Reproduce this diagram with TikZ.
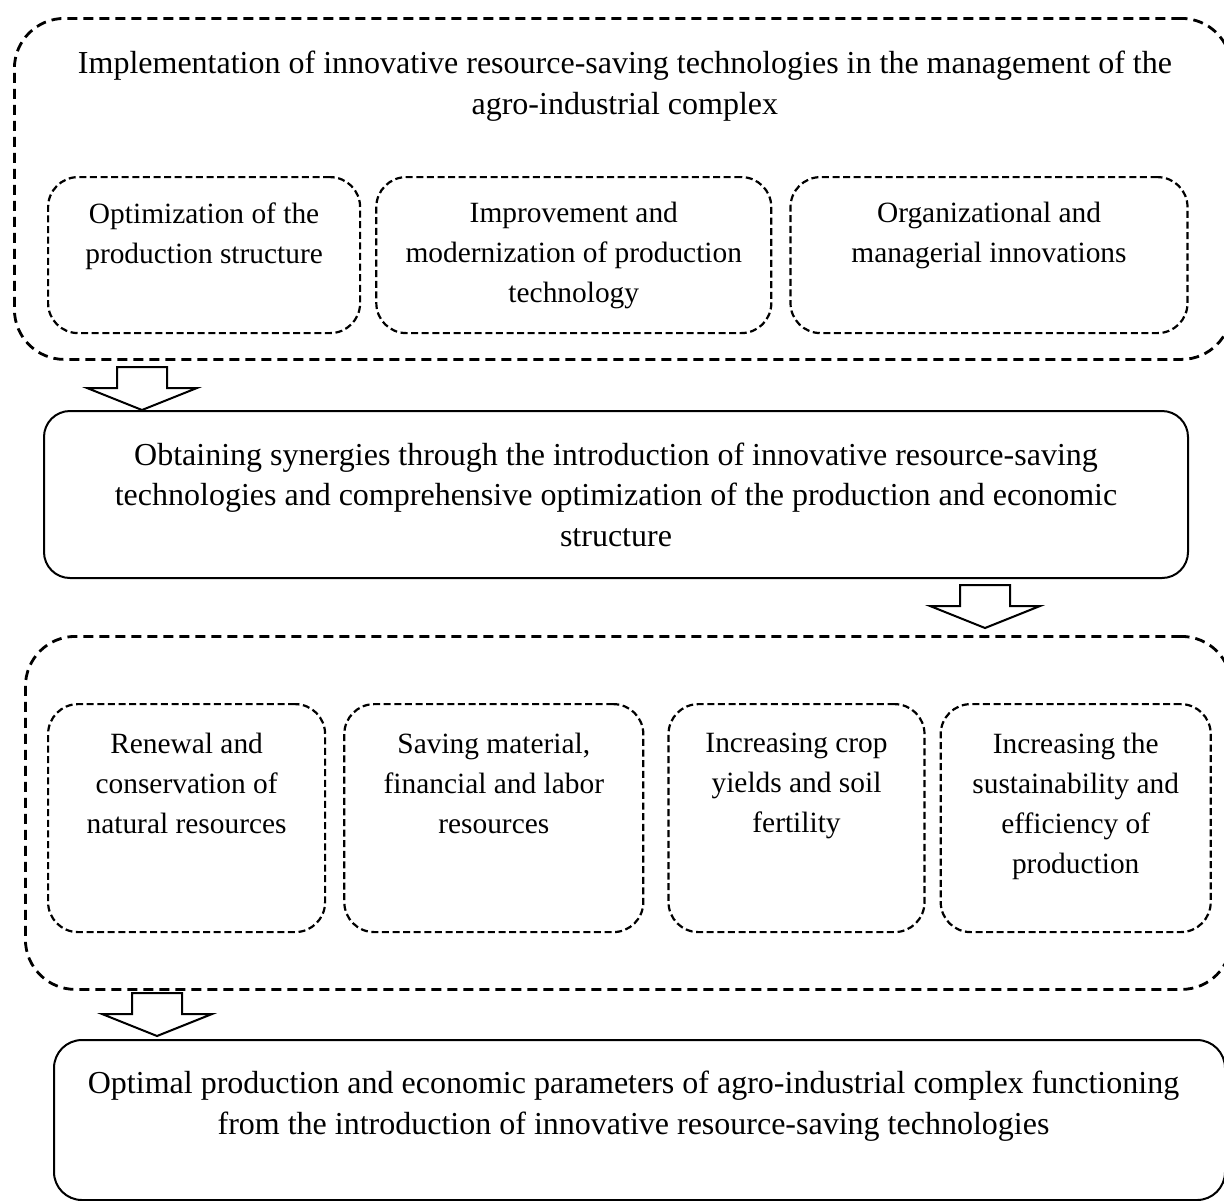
\documentclass[tikz,border=0pt]{standalone}
\usepackage{fontspec}
\setmainfont{Liberation Serif}
\usepackage{tikz}
\usetikzlibrary{positioning}

\begin{document}
\begin{tikzpicture}[
    x=0.5pt, y=-0.5pt,
    outerbox/.style={
        rectangle, draw=black, line width=1.4pt,
        dash pattern=on 5pt off 3pt, rounded corners=25pt,
        anchor=north west, inner sep=0pt
    },
    innerbox/.style={
        rectangle, draw=black, line width=1.1pt,
        dash pattern=on 3.5pt off 1.8pt, rounded corners=15pt,
        anchor=north west, inner sep=0pt
    },
    solidbox/.style={
        rectangle, draw=black, line width=1pt,
        rounded corners=13pt, anchor=north west, inner sep=0pt
    },
    txt/.style={
        align=center, inner sep=0pt,
        font=\fontsize{14.7}{20}\selectfont
    },
    bigtxt/.style={
        align=center, inner sep=0pt,
        font=\fontsize{16}{20.2}\selectfont
    },
    blockarr/.style={draw=black, fill=white, line width=1pt, line join=miter},
]
\useasboundingbox (0,0) rectangle (1224,1200);

% top group
\node[outerbox, minimum width=608.5pt, minimum height=170.5pt] (impl) at (13,17) {};
\node[bigtxt, below=17pt of impl.north, xshift=1pt] (implT)
  {Implementation of innovative resource-saving technologies in the management of the\\
   agro-industrial complex};

\node[innerbox, minimum width=156pt, minimum height=78pt] (optim) at (47,176) {};
\node[innerbox, minimum width=197.5pt, minimum height=78pt, right=7pt of optim.north east, anchor=north west] (modern) {};
\node[innerbox, minimum width=198.5pt, minimum height=78pt, right=8.5pt of modern.north east, anchor=north west] (organ) {};
\node[txt, below=13pt of optim.north] (optimT) {Optimization of the\\production structure};
\node[txt, below=13pt of modern.north] (modernT) {Improvement and\\modernization of production\\technology};
\node[txt, below=13pt of organ.north] (organT) {Organizational and\\managerial innovations};

% synergy
\node[solidbox, minimum width=572pt, minimum height=83.5pt] (syn) at (43,410) {};
\node[bigtxt] (synT) at (syn.center)
  {Obtaining synergies through the introduction of innovative resource-saving\\
   technologies and comprehensive optimization of the production and economic\\
   structure};

% effects group
\node[outerbox, minimum width=603pt, minimum height=176.5pt] (eff) at (24,635) {};
\node[innerbox, minimum width=138.5pt, minimum height=114pt] (renew) at (47,703) {};
\node[innerbox, minimum width=149.5pt, minimum height=114pt, right=8.5pt of renew.north east, anchor=north west] (saving) {};
\node[innerbox, minimum width=128pt, minimum height=114pt, right=11.5pt of saving.north east, anchor=north west] (yield) {};
\node[innerbox, minimum width=135pt, minimum height=114pt, right=7pt of yield.north east, anchor=north west] (sustain) {};
\node[txt, below=15pt of renew.north] (renewT) {Renewal and\\conservation of\\natural resources};
\node[txt, below=15pt of saving.north] (savingT) {Saving material,\\financial and labor\\resources};
\node[txt, below=15pt of yield.north] (yieldT) {Increasing crop\\yields and soil\\fertility};
\node[txt, below=15pt of sustain.north] (sustainT) {Increasing the\\sustainability and\\efficiency of\\production};

% result
\node[solidbox, minimum width=585.5pt, minimum height=80pt, rounded corners=14pt] (res) at (53,1039) {};
\node[bigtxt, below=16pt of res.north, xshift=-3pt] (resT)
  {Optimal production and economic parameters of agro-industrial complex functioning\\
   from the introduction of innovative resource-saving technologies};

% block arrows
\coordinate (tip1) at (142,410);
\coordinate (tip2) at (985,628);
\coordinate (tip3) at (157,1036);
\foreach \t in {tip1, tip2, tip3}
  \draw[blockarr] (\t) -- ++(-55,-22) -- ++(30,0) -- ++(0,-21) -- ++(50,0)
    -- ++(0,21) -- ++(30,0) -- cycle;

\end{tikzpicture}
\end{document}
